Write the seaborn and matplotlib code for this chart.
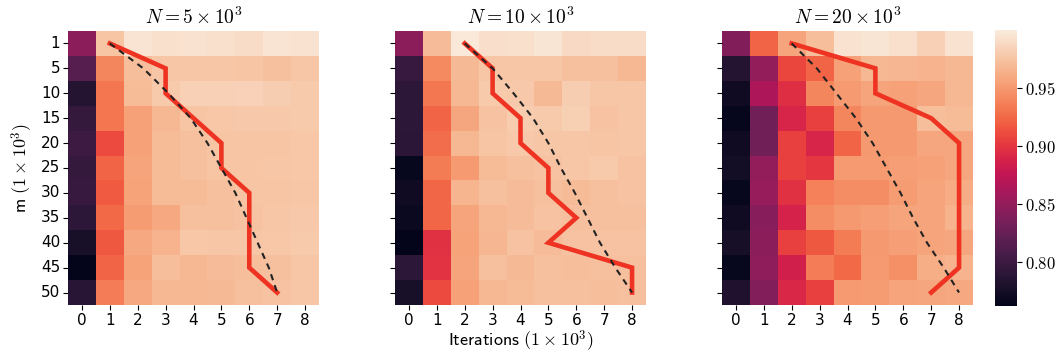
import numpy as np
import pandas as pd
import matplotlib
matplotlib.use("Agg")
import matplotlib.pyplot as plt
import seaborn as sns
from matplotlib.ticker import FuncFormatter

plt.rcParams['mathtext.fontset'] = 'cm'
plt.rcParams['font.family'] = ['DejaVu Sans']
plt.rcParams['font.size'] = 11

m_vals = [1, 5, 10, 15, 20, 25, 30, 35, 40, 45, 50]
iters = [0, 1, 2, 3, 4, 5, 6, 7, 8]
titles = [r"$N = 5 \times 10^3$", r"$N = 10 \times 10^3$", r"$N = 20 \times 10^3$"]

# accuracy grids, rows = m, columns = iterations
acc_5k = [
    [0.845, 0.975, 0.995, 0.993, 0.994, 0.993, 0.990, 0.995, 0.994],
    [0.815, 0.940, 0.972, 0.976, 0.976, 0.976, 0.975, 0.973, 0.976],
    [0.785, 0.932, 0.970, 0.979, 0.983, 0.983, 0.984, 0.981, 0.979],
    [0.795, 0.932, 0.955, 0.968, 0.975, 0.977, 0.978, 0.978, 0.979],
    [0.800, 0.910, 0.955, 0.970, 0.973, 0.975, 0.975, 0.975, 0.977],
    [0.795, 0.922, 0.957, 0.970, 0.973, 0.975, 0.975, 0.976, 0.977],
    [0.797, 0.918, 0.956, 0.970, 0.970, 0.973, 0.975, 0.975, 0.976],
    [0.790, 0.925, 0.952, 0.960, 0.973, 0.973, 0.974, 0.976, 0.978],
    [0.777, 0.917, 0.960, 0.965, 0.977, 0.976, 0.976, 0.977, 0.979],
    [0.763, 0.922, 0.956, 0.972, 0.968, 0.971, 0.972, 0.973, 0.976],
    [0.788, 0.935, 0.960, 0.968, 0.968, 0.969, 0.973, 0.974, 0.976],
]
acc_10k = [
    [0.845, 0.971, 0.998, 0.992, 0.993, 0.996, 0.988, 0.990, 0.990],
    [0.797, 0.942, 0.969, 0.976, 0.976, 0.976, 0.973, 0.973, 0.968],
    [0.790, 0.933, 0.968, 0.979, 0.978, 0.969, 0.981, 0.976, 0.976],
    [0.790, 0.922, 0.958, 0.974, 0.980, 0.979, 0.982, 0.974, 0.976],
    [0.789, 0.927, 0.968, 0.975, 0.978, 0.976, 0.976, 0.975, 0.976],
    [0.766, 0.934, 0.951, 0.970, 0.973, 0.974, 0.976, 0.979, 0.974],
    [0.772, 0.923, 0.966, 0.973, 0.971, 0.973, 0.970, 0.973, 0.974],
    [0.768, 0.923, 0.957, 0.968, 0.971, 0.974, 0.973, 0.973, 0.973],
    [0.763, 0.897, 0.956, 0.967, 0.974, 0.971, 0.974, 0.974, 0.974],
    [0.790, 0.898, 0.957, 0.973, 0.969, 0.973, 0.972, 0.973, 0.973],
    [0.777, 0.910, 0.955, 0.968, 0.970, 0.973, 0.973, 0.972, 0.973],
]
acc_20k = [
    [0.840, 0.922, 0.957, 0.972, 0.994, 0.996, 0.993, 0.983, 0.994],
    [0.785, 0.850, 0.908, 0.922, 0.955, 0.968, 0.967, 0.965, 0.968],
    [0.772, 0.864, 0.895, 0.940, 0.951, 0.957, 0.955, 0.958, 0.968],
    [0.765, 0.830, 0.890, 0.905, 0.940, 0.950, 0.950, 0.972, 0.970],
    [0.772, 0.831, 0.905, 0.890, 0.922, 0.950, 0.950, 0.958, 0.958],
    [0.774, 0.850, 0.905, 0.900, 0.951, 0.951, 0.953, 0.955, 0.958],
    [0.766, 0.852, 0.897, 0.937, 0.944, 0.944, 0.952, 0.957, 0.961],
    [0.772, 0.843, 0.888, 0.944, 0.950, 0.953, 0.957, 0.957, 0.965],
    [0.776, 0.846, 0.905, 0.917, 0.934, 0.950, 0.953, 0.957, 0.958],
    [0.766, 0.848, 0.885, 0.935, 0.925, 0.951, 0.945, 0.962, 0.965],
    [0.782, 0.841, 0.892, 0.906, 0.951, 0.952, 0.957, 0.958, 0.960],
]

# best iteration per m (red line)
best_5k = [1, 3, 3, 4, 5, 5, 6, 6, 6, 6, 7]
best_10k = [2, 3, 3, 4, 4, 5, 5, 6, 5, 8, 8]
best_20k = [2, 5, 5, 7, 8, 8, 8, 8, 8, 8, 7]

# reference curve (dashed), iteration per m row
curve_5k = [1.0, 2.2, 3.1, 3.9, 4.5, 5.0, 5.5, 5.9, 6.3, 6.7, 7.0]
curve_10k = [2.0, 3.0, 3.75, 4.45, 5.0, 5.45, 5.95, 6.4, 6.85, 7.4, 8.0]
curve_20k = [2.0, 2.9, 3.6, 4.3, 4.9, 5.4, 5.9, 6.35, 6.85, 7.45, 8.0]

grids = [acc_5k, acc_10k, acc_20k]
bests = [best_5k, best_10k, best_20k]
curves = [curve_5k, curve_10k, curve_20k]

W, H = 1058, 354
fig = plt.figure(figsize=(W / 100, H / 100), dpi=100)
lefts = [68, 395, 722]
axes = [fig.add_axes([l / W, 49 / H, 251 / W, 274 / H]) for l in lefts]
cax = fig.add_axes([995 / W, 48 / H, 22 / W, 276 / H])

rows = np.arange(len(m_vals)) + 0.5
for i, ax in enumerate(axes):
    df = pd.DataFrame(grids[i], index=m_vals, columns=iters)
    sns.heatmap(df, ax=ax, cmap="rocket", vmin=0.762, vmax=1.0,
                cbar=(i == 2), cbar_ax=cax if i == 2 else None)
    ax.plot(np.array(bests[i]) + 0.5, rows, color="#EE3322", lw=3.3,
            solid_joinstyle="miter")
    ax.plot(np.array(curves[i]) + 0.5, rows, color="#222222", lw=1.5,
            ls=(0, (3, 2.5)))
    ax.set_title(titles[i], fontsize=14, pad=5)
    ax.set_xticklabels(iters, rotation=0, fontsize=11)
    ax.tick_params(length=3.5, pad=2)
    if i == 0:
        ax.set_yticklabels(m_vals, rotation=0, fontsize=11)
        ax.set_ylabel(r"$\mathsf{m}\ (1 \times 10^3)$", fontsize=13, labelpad=4)
    else:
        ax.set_yticklabels([])
    if i == 1:
        ax.set_xlabel(r"$\mathsf{Iterations}\ (1 \times 10^3)$", fontsize=13, labelpad=1)

cb = axes[2].collections[0].colorbar
cb.set_ticks([0.80, 0.85, 0.90, 0.95])
cb.ax.yaxis.set_major_formatter(FuncFormatter(lambda v, p: r"$%.2f$" % v))
cb.ax.tick_params(labelsize=12, length=3.5, pad=2)

fig.savefig("out.png", dpi=100)
